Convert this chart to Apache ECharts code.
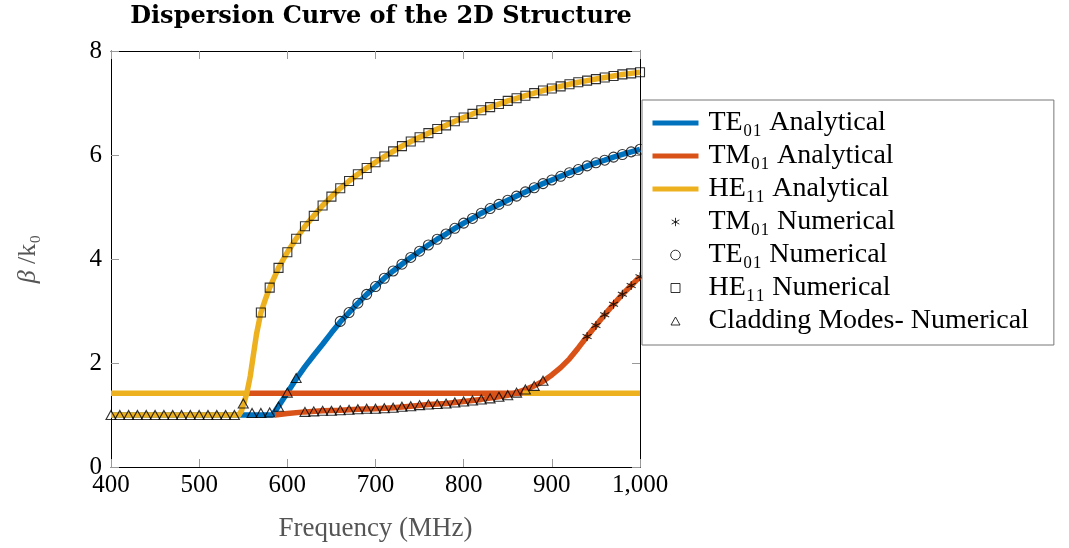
<!DOCTYPE html>
<html><head><meta charset="utf-8">
<script src="https://cdn.jsdelivr.net/npm/echarts@6/dist/echarts.min.js"></script>
<style>html,body{margin:0;padding:0;background:#fff}#c{width:1069px;height:548px}</style>
</head><body><div id="c"></div>
<script>
// ---- axis ticks ----
const xTicks = [400, 500, 600, 700, 800, 900, 1000];
const xTickLabels = ['400', '500', '600', '700', '800', '900', '1,000'];
const yTicks = [0, 2, 4, 6, 8];

// ---- analytical curves ----
const teAnaFreq = [400, 583, 586, 590, 595, 600, 610, 620, 630, 640, 650, 660, 670, 680, 690, 700, 710, 720, 730, 740, 750, 760, 770, 780, 790, 800, 810, 820, 830, 840, 850, 860, 870, 880, 890, 900, 910, 920, 930, 940, 950, 960, 970, 980, 990, 1000];
const teAnaVal = [1.0, 1.0, 1.07, 1.17, 1.30, 1.43, 1.69, 1.93, 2.15, 2.36, 2.58, 2.79, 2.97, 3.15, 3.32, 3.47, 3.63, 3.77, 3.90, 4.03, 4.15, 4.27, 4.38, 4.48, 4.59, 4.69, 4.78, 4.88, 4.97, 5.05, 5.13, 5.21, 5.29, 5.37, 5.45, 5.52, 5.59, 5.66, 5.72, 5.79, 5.85, 5.90, 5.96, 6.01, 6.06, 6.11];

const tmAnaFreq = [586, 600, 620, 640, 660, 680, 700, 720, 740, 760, 780, 800, 820, 840, 850, 860, 870, 880, 890, 900, 910, 920, 930, 940, 950, 960, 970, 980, 990, 1000];
const tmAnaVal = [1.0, 1.03, 1.06, 1.08, 1.09, 1.11, 1.12, 1.14, 1.17, 1.20, 1.22, 1.26, 1.30, 1.35, 1.38, 1.43, 1.49, 1.56, 1.65, 1.77, 1.91, 2.08, 2.29, 2.51, 2.72, 2.93, 3.13, 3.32, 3.49, 3.66];
const tmFlatFreq = [553, 867];
const tmFlatVal = [1.42, 1.42];

const heAnaFreq = [400, 545, 548, 550, 552, 554, 556, 558, 561, 565, 570, 575, 580, 590, 600, 610, 620, 630, 640, 650, 660, 670, 680, 690, 700, 710, 720, 730, 740, 750, 760, 770, 780, 790, 800, 810, 820, 830, 840, 850, 860, 870, 880, 890, 900, 910, 920, 930, 940, 950, 960, 970, 980, 990, 1000];
const heAnaVal = [1.0, 1.0, 1.08, 1.19, 1.30, 1.42, 1.58, 1.75, 2.10, 2.55, 2.97, 3.22, 3.45, 3.83, 4.13, 4.39, 4.63, 4.83, 5.03, 5.20, 5.36, 5.50, 5.63, 5.75, 5.86, 5.97, 6.07, 6.17, 6.26, 6.34, 6.42, 6.50, 6.57, 6.65, 6.72, 6.79, 6.86, 6.92, 6.98, 7.04, 7.09, 7.14, 7.19, 7.24, 7.28, 7.32, 7.36, 7.40, 7.43, 7.46, 7.49, 7.52, 7.55, 7.57, 7.59];
const heFlatLeftFreq = [400, 553];
const heFlatLeftVal = [1.42, 1.42];
const heFlatRightFreq = [867, 1000];
const heFlatRightVal = [1.42, 1.42];

// ---- numerical points ----
const tmNumFreq = [940, 950, 960, 970, 980, 990, 1000];
const tmNumVal = [2.51, 2.72, 2.93, 3.13, 3.32, 3.49, 3.66];

const teNumFreq = [660, 670, 680, 690, 700, 710, 720, 730, 740, 750, 760, 770, 780, 790, 800, 810, 820, 830, 840, 850, 860, 870, 880, 890, 900, 910, 920, 930, 940, 950, 960, 970, 980, 990, 1000];
const teNumVal = [2.80, 2.97, 3.15, 3.32, 3.47, 3.63, 3.77, 3.90, 4.03, 4.15, 4.27, 4.38, 4.48, 4.59, 4.69, 4.78, 4.88, 4.97, 5.05, 5.13, 5.21, 5.29, 5.37, 5.45, 5.52, 5.59, 5.66, 5.72, 5.79, 5.85, 5.90, 5.96, 6.01, 6.06, 6.11];

const heNumFreq = [570, 580, 590, 600, 610, 620, 630, 640, 650, 660, 670, 680, 690, 700, 710, 720, 730, 740, 750, 760, 770, 780, 790, 800, 810, 820, 830, 840, 850, 860, 870, 880, 890, 900, 910, 920, 930, 940, 950, 960, 970, 980, 990, 1000];
const heNumVal = [2.97, 3.45, 3.83, 4.13, 4.39, 4.63, 4.83, 5.03, 5.20, 5.36, 5.50, 5.63, 5.75, 5.86, 5.97, 6.07, 6.17, 6.26, 6.34, 6.42, 6.50, 6.57, 6.65, 6.72, 6.79, 6.86, 6.92, 6.98, 7.04, 7.09, 7.14, 7.19, 7.24, 7.28, 7.32, 7.36, 7.40, 7.43, 7.46, 7.49, 7.52, 7.55, 7.57, 7.59];

const cladFreq = [400, 410, 420, 430, 440, 450, 460, 470, 480, 490, 500, 510, 520, 530, 540, 550, 560, 570, 580, 590, 600, 610, 620, 630, 640, 650, 660, 670, 680, 690, 700, 710, 720, 730, 740, 750, 760, 770, 780, 790, 800, 810, 820, 830, 840, 850, 860, 870, 880, 890];
const cladVal = [1.00, 1.00, 1.00, 1.00, 1.00, 1.00, 1.00, 1.00, 1.00, 1.00, 1.00, 1.00, 1.00, 1.00, 1.00, 1.22, 1.04, 1.04, 1.05, 1.16, 1.43, 1.71, 1.06, 1.07, 1.08, 1.08, 1.09, 1.10, 1.11, 1.12, 1.12, 1.13, 1.14, 1.16, 1.17, 1.19, 1.20, 1.21, 1.22, 1.24, 1.26, 1.28, 1.30, 1.32, 1.35, 1.38, 1.43, 1.49, 1.56, 1.66];

const legendNames = ['TE₀₁ Analytical', 'TM₀₁ Analytical', 'HE₁₁ Analytical', 'TM₀₁ Numerical', 'TE₀₁ Numerical', 'HE₁₁ Numerical', 'Cladding Modes- Numerical'];

const C_BLUE = '#0072BD', C_ORANGE = '#D95319', C_YELLOW = '#EDB120';
const SERIF = 'Liberation Serif';
const LINE_W = 5.5;
const pairs = (xs, ys) => xs.map((x, i) => [x, ys[i]]);

function lineSeries(name, xs, ys, color) {
  return { name, type: 'line', data: pairs(xs, ys), symbol: 'none', silent: true,
    lineStyle: { color, width: LINE_W, join: 'round' }, itemStyle: { color }, z: 2 };
}
function markSeries(name, xs, ys, symbol, size) {
  return { name, type: 'scatter', data: pairs(xs, ys), symbol, symbolSize: size, silent: true,
    itemStyle: { color: 'rgba(0,0,0,0)', borderColor: '#000', borderWidth: 1.1 }, z: 3 };
}
const asterisk = 'path://M0,-10L0,10M-8.66,-5L8.66,5M-8.66,5L8.66,-5';

// legend icons: 46x12 boxes (anchor points fix the box), glyph centred
const BOX = 'M0,0L0,0M46,12L46,12';
const iconLine = 'path://' + BOX + 'M0,3.4L46,3.4L46,8.6L0,8.6Z';
const iconStar = 'path://' + BOX + 'M23,1.8L23,10.2M19.2,3.9L26.8,8.1M19.2,8.1L26.8,3.9';
const iconCircle = 'path://' + BOX + 'M18.2,6A4.8,4.8 0 1,0 27.8,6A4.8,4.8 0 1,0 18.2,6Z';
const iconSquare = 'path://' + BOX + 'M18.5,1.5L27.5,1.5L27.5,10.5L18.5,10.5Z';
const iconTri = 'path://' + BOX + 'M23,2L27.5,10L18.5,10Z';
const hollow = { color: 'rgba(0,0,0,0)', borderColor: '#000', borderWidth: 1 };

const axisCommon = {
  type: 'value', splitLine: { show: false },
  axisLine: { show: true, onZero: false, lineStyle: { color: '#000', width: 1 } },
  axisTick: { show: true, inside: true, length: 8, lineStyle: { color: '#999', width: 1 } }
};

const option = {
  animation: false,
  backgroundColor: '#fff',
  title: {
    text: 'Dispersion Curve of the 2D Structure', left: 376, top: 0, textAlign: 'center',
    textStyle: { fontFamily: 'DejaVu Serif', fontWeight: 'bold', fontSize: 24, color: '#000' }
  },
  grid: { left: 111, right: 429, top: 51, bottom: 81, show: false },
  xAxis: [
    Object.assign({}, axisCommon, {
      min: 400, max: 1000, interval: 100, position: 'bottom',
      axisLabel: { color: '#000', fontFamily: SERIF, fontSize: 25, margin: 6,
        formatter: v => { const i = xTicks.indexOf(v); return i >= 0 ? xTickLabels[i] : String(v); } },
      name: 'Frequency (MHz)', nameLocation: 'middle', nameGap: 48,
      nameTextStyle: { fontFamily: SERIF, fontSize: 27, color: '#555' }
    }),
    Object.assign({}, axisCommon, { min: 400, max: 1000, interval: 100, position: 'top', axisLabel: { show: false } })
  ],
  yAxis: [
    Object.assign({}, axisCommon, {
      min: 0, max: 8, interval: 2, position: 'left',
      axisLabel: { color: '#000', fontFamily: SERIF, fontSize: 25, margin: 9,
        formatter: v => yTicks.includes(v) ? String(v) : '' },
      name: '{b|β} /k₀', nameLocation: 'middle', nameGap: 70, nameRotate: 90,
      nameTextStyle: { fontFamily: SERIF, fontSize: 26, color: '#555', rich: { b: { fontFamily: SERIF, fontSize: 26, color: '#555', fontStyle: 'italic' } } }
    }),
    Object.assign({}, axisCommon, { min: 0, max: 8, interval: 2, position: 'right', axisLabel: { show: false } })
  ],
  legend: {
    orient: 'vertical', left: 642, top: 100, padding: [9, 25, 10, 10], itemGap: 5,
    itemWidth: 46, itemHeight: 12, selectedMode: false,
    borderColor: '#777', borderWidth: 1, backgroundColor: '#fff',
    textStyle: { fontFamily: SERIF, fontSize: 28, color: '#000', lineHeight: 26, padding: [0, 0, 0, 5] },
    data: [
      { name: legendNames[0], icon: iconLine, itemStyle: { color: C_BLUE, borderWidth: 0 } },
      { name: legendNames[1], icon: iconLine, itemStyle: { color: C_ORANGE, borderWidth: 0 } },
      { name: legendNames[2], icon: iconLine, itemStyle: { color: C_YELLOW, borderWidth: 0 } },
      { name: legendNames[3], icon: iconStar, itemStyle: hollow },
      { name: legendNames[4], icon: iconCircle, itemStyle: hollow },
      { name: legendNames[5], icon: iconSquare, itemStyle: hollow },
      { name: legendNames[6], icon: iconTri, itemStyle: hollow }
    ]
  },
  series: [
    lineSeries(legendNames[0], teAnaFreq, teAnaVal, C_BLUE),
    lineSeries(legendNames[1], tmAnaFreq, tmAnaVal, C_ORANGE),
    lineSeries('tmFlat', tmFlatFreq, tmFlatVal, C_ORANGE),
    lineSeries(legendNames[2], heAnaFreq, heAnaVal, C_YELLOW),
    lineSeries('heFlatLeft', heFlatLeftFreq, heFlatLeftVal, C_YELLOW),
    lineSeries('heFlatRight', heFlatRightFreq, heFlatRightVal, C_YELLOW),
    markSeries(legendNames[3], tmNumFreq, tmNumVal, asterisk, 9),
    markSeries(legendNames[4], teNumFreq, teNumVal, 'circle', 10),
    markSeries(legendNames[5], heNumFreq, heNumVal, 'rect', 9),
    markSeries(legendNames[6], cladFreq, cladVal, 'triangle', [10, 9])
  ]
};
const chart = echarts.init(document.getElementById('c'), null, { renderer: 'canvas' });
chart.setOption(option);
</script>
</body></html>
